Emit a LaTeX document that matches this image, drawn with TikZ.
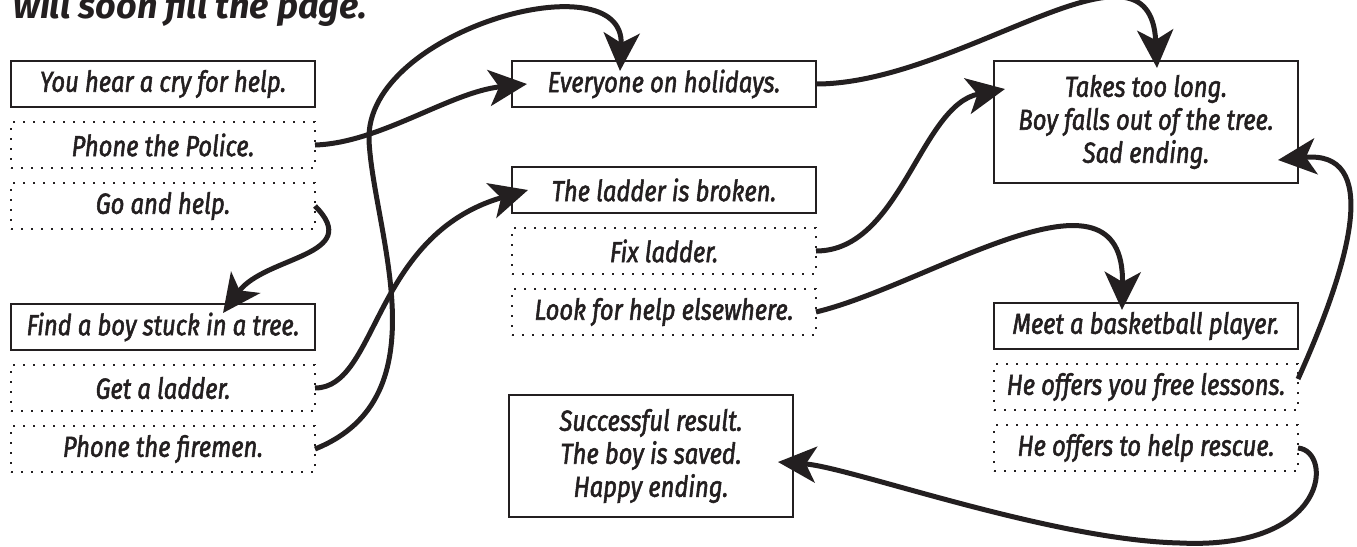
\documentclass[tikz,border=0pt]{standalone}
\usepackage{fontspec}
\setmainfont{Fira Sans}[FakeStretch=0.82,FakeBold=1.8]
\newfontfamily\introfont{Fira Sans}
\usetikzlibrary{arrows.meta,positioning}
\definecolor{ink}{RGB}{35,31,32}

\begin{document}
\begin{tikzpicture}[
  font=\fontsize{14.5}{16.5}\selectfont\itshape,
  >={Stealth[length=19pt,width=18pt,inset=5pt]},
  scene/.style={draw=ink,text=ink,line width=1.2pt,minimum width=152pt,minimum height=23pt,inner sep=0pt,outer sep=0pt,align=center},
  choice/.style={scene,line width=1pt,dash pattern=on 1pt off 4pt},
  arr/.style={->,draw=ink,line width=2.5pt}
]
\useasboundingbox (0,0) rectangle (678.5pt,-273.5pt);
\node[anchor=base west,inner sep=0pt,text=ink,font=\introfont\fontsize{18}{21}\selectfont\bfseries\itshape] (intro) at (6.5pt,-9pt) {will soon fill the page.};
\node[scene] (cry) at (81.5pt,-42pt) {You hear a cry for help.};
\node[choice,below=7.5pt of cry] (police) {Phone the Police.};
\node[choice,below=7.5pt of police] (go) {Go and help.};
\node[scene,below=37.5pt of go] (find) {Find a boy stuck in a tree.};
\node[choice,below=7.5pt of find] (get) {Get a ladder.};
\node[choice,below=7.5pt of get] (fire) {Phone the firemen.};
\node[scene,right=98.5pt of cry] (hol) {Everyone on holidays.};
\node[scene,below=30pt of hol] (broken) {The ladder is broken.};
\node[choice,below=7.5pt of broken] (fix) {Fix ladder.};
\node[choice,below=7.5pt of fix] (look) {Look for help elsewhere.};
\node[scene,minimum width=142pt,minimum height=61pt,below=30pt of look,xshift=-6.5pt] (succ) {Successful result.\\The boy is saved.\\Happy ending.};
\node[scene,minimum height=61pt,right=89pt of hol.north east,anchor=north west] (takes) {Takes too long.\\Boy falls out of the tree.\\Sad ending.};
\node[scene,below=60pt of takes] (meet) {Meet a basketball player.};
\node[choice,below=7.5pt of meet] (lessons) {He offers you free lessons.};
\node[choice,below=7.5pt of lessons] (rescue) {He offers to help rescue.};
\coordinate (bend) at (184.5pt,-70pt);
\coordinate (hook) at (590pt,-271.5pt);
\draw[arr] (police.east) .. controls +(32.5pt,1pt) and +(-38.5pt,-4pt) .. ([xshift=7.5pt]hol.west);
\draw[arr] (go.east) .. controls +(25pt,-25pt) and +(21pt,28.5pt) .. ([xshift=30pt,yshift=-4.5pt]find.north);
\draw[arr] (get.east) .. controls +(31.5pt,0pt) and +(-78pt,-22.5pt) .. ([xshift=8pt]broken.west);
\draw[arr] (fire.east) .. controls +(65pt,26pt) and +(2pt,-45pt) .. (bend) .. controls +(-2pt,55pt) and +(2.5pt,56pt) .. ([xshift=-22pt,yshift=-5pt]hol.north);
\draw[arr] (hol.east) .. controls +(72.5pt,0pt) and +(-3.5pt,74pt) .. ([xshift=5.5pt,yshift=-3.5pt]takes.north);
\draw[arr] (fix.east) .. controls +(42.5pt,0pt) and +(-42.5pt,-8pt) .. ([xshift=5.5pt,yshift=16.5pt]takes.west);
\draw[arr] (look.east) .. controls +(56.5pt,13.5pt) and +(1.5pt,80pt) .. ([xshift=-12pt,yshift=-3.5pt]meet.north);
\draw[arr] ([yshift=4pt]lessons.east) .. controls +(27.5pt,61pt) and +(51pt,5pt) .. ([xshift=-10pt,yshift=-19pt]takes.east);
\draw[arr] (rescue.east) .. controls +(17.5pt,-1.5pt) and +(75pt,-3.5pt) .. (hook) .. controls +(-65pt,1.5pt) and +(36pt,-2.5pt) .. ([xshift=-7.5pt,yshift=-3pt]succ.east);
\end{tikzpicture}
\end{document}
